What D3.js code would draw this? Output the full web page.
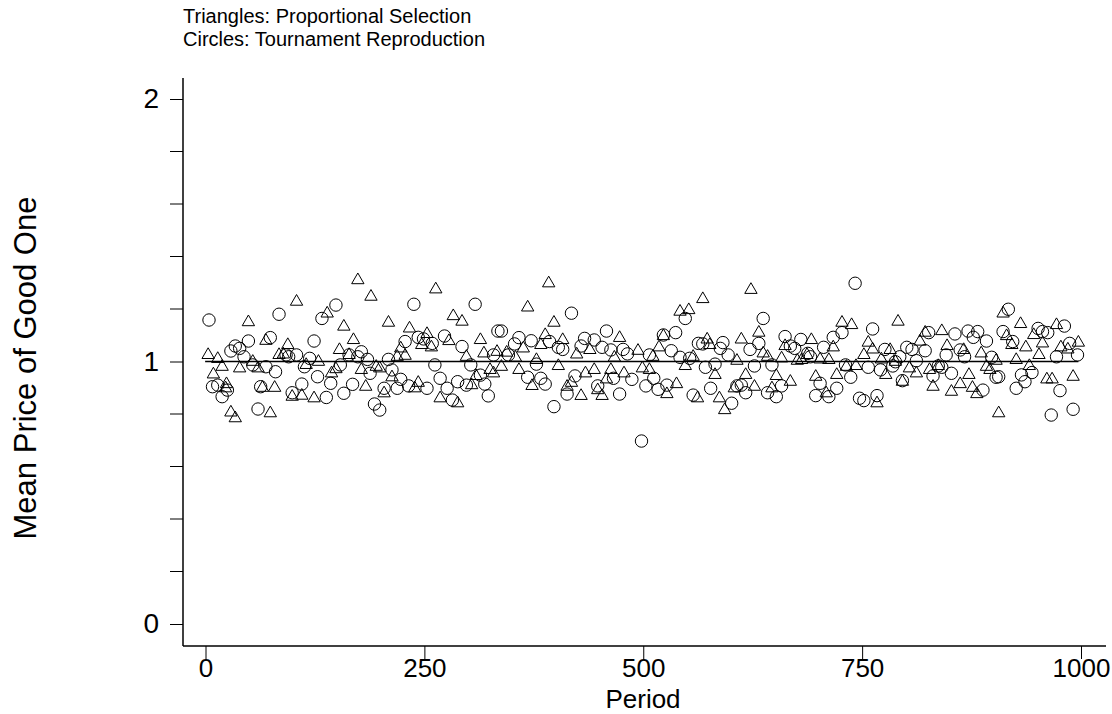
<!DOCTYPE html>
<html>
<head>
<meta charset="utf-8">
<script src="https://cdn.jsdelivr.net/npm/d3@7"></script>
<style>
  body { margin: 0; background: #fff; }
  svg text { font-family: "Liberation Sans", Arial, Helvetica, sans-serif; fill: #000; }
</style>
</head>
<body>
<div id="chart"></div>
<script>
;(function() {

  var titleLines = ['Triangles: Proportional Selection', 'Circles: Tournament Reproduction'];
  var xTicks = [0, 250, 500, 750, 1000];
  var yTicks = [0, 1, 2];
  var yMinorTicks = [0.2, 0.4, 0.6, 0.8, 1.2, 1.4, 1.6, 1.8];
  var refValue = 1;

  // [period, mean price]
  var triangles = [
    [3,1.025],[9,0.951],[14,1.01],[19,0.98],[23,0.898],[24,0.914],[29,0.806],[34,0.784],[39,0.974],[49,1.15],
    [54,0.999],[60,0.974],[65,0.9],[69,1.079],[74,0.803],[79,0.9],[84,1.025],[89,1.027],[94,1.063],[99,0.866],
    [104,1.228],[110,0.87],[115,0.987],[124,0.86],[129,0.999],[139,1.183],[144,0.955],[149,0.971],[153,1.044],[158,1.133],
    [164,1.025],[169,1.082],[174,1.31],[178,0.968],[183,0.904],[189,1.247],[195,0.98],[199,0.974],[204,0.879],[209,1.148],
    [213,0.94],[219,1.018],[223,1.05],[228,1.022],[233,1.126],[239,0.898],[243,0.919],[247,1.063],[253,1.105],[258,1.054],
    [263,1.275],[268,0.86],[278,1.078],[283,1.173],[288,0.841],[293,1.152],[298,1.018],[304,0.91],[309,0.945],[314,1.082],
    [318,1.031],[325,0.968],[329,0.955],[333,1.037],[338,0.98],[344,1.034],[354,1.015],[358,0.968],[363,1.05],[368,1.206],
    [373,0.907],[378,1.006],[383,1.063],[388,1.101],[392,1.298],[398,1.148],[403,0.983],[408,1.082],[413,0.904],[418,0.919],
    [424,1.027],[429,0.869],[434,0.955],[439,1.044],[444,0.968],[448,0.891],[453,0.869],[458,0.932],[463,0.968],[467,1.015],
    [473,1.09],[478,0.955],[494,1.041],[499,0.974],[507,0.968],[511,1.018],[518,1.054],[523,1.097],[527,0.876],[538,0.914],
    [542,1.19],[548,0.983],[552,1.196],[557,1.018],[562,0.86],[568,1.238],[573,1.084],[576,1.063],[582,0.949],[587,0.86],
    [593,0.815],[604,0.898],[607,1.003],[612,1.084],[617,0.949],[623,1.273],[627,0.904],[632,1.11],[637,1.031],[642,1.018],
    [647,0.898],[652,0.945],[658,1.012],[662,1.059],[668,0.923],[676,1.003],[681,1.006],[687,1.025],[692,1.082],[697,0.942],
    [702,1.008],[709,0.879],[712,1.006],[717,1.054],[721,0.949],[727,1.148],[732,0.98],[738,1.139],[743,0.983],[752,1.025],
    [757,1.072],[762,1.046],[767,0.841],[772,1.008],[777,0.949],[782,1.044],[788,0.999],[791,1.152],[796,0.923],[804,0.974],
    [812,0.955],[816,1.076],[822,1.11],[827,0.968],[831,0.904],[837,0.983],[841,1.116],[847,1.059],[852,0.885],[862,0.914],
    [866,1.044],[872,0.949],[876,0.9],[881,0.876],[886,1.031],[892,0.98],[896,0.968],[903,1.003],[906,0.803],[911,1.183],
    [915,1.097],[921,1.063],[926,1.006],[931,1.143],[937,1.054],[941,0.983],[946,1.101],[952,1.025],[956,1.069],[961,0.932],
    [967,0.932],[972,1.139],[977,1.054],[985,1.046],[991,0.942],[997,1.072]
  ];

  var circles = [
    [4,1.158],[8,0.904],[14,0.91],[19,0.866],[25,0.891],[29,1.04],[34,1.059],[39,1.05],[44,1.018],[49,1.078],
    [54,0.987],[60,0.819],[63,0.904],[69,0.98],[74,1.091],[80,0.961],[84,1.18],[92,1.025],[95,1.018],[99,0.881],
    [104,1.025],[110,0.914],[113,0.98],[119,1.012],[124,1.078],[128,0.942],[133,1.164],[138,0.863],[143,0.917],[149,1.215],
    [154,0.987],[158,0.879],[164,1.025],[168,0.913],[174,1.018],[178,1.037],[185,1.008],[188,0.955],[193,0.838],[199,0.815],
    [204,0.898],[209,1.008],[213,0.968],[219,0.898],[223,0.932],[228,1.076],[232,0.907],[238,1.218],[243,1.092],[249,1.086],
    [253,0.898],[259,1.069],[262,0.987],[268,0.936],[273,1.097],[276,0.898],[282,0.853],[288,0.923],[293,1.057],[298,0.91],
    [303,0.987],[308,1.218],[314,0.948],[319,0.914],[323,0.869],[329,1.025],[334,1.116],[338,1.116],[346,1.025],[353,1.067],
    [358,1.091],[368,0.94],[372,1.079],[378,0.99],[383,0.936],[388,0.914],[393,1.076],[398,0.828],[403,1.054],[408,1.046],
    [413,0.876],[418,1.184],[422,0.945],[429,1.059],[433,1.088],[444,1.082],[448,0.907],[453,1.054],[458,1.116],[463,1.044],
    [466,0.936],[473,0.876],[477,1.046],[482,1.029],[487,0.932],[498,0.697],[503,0.907],[507,1.025],[512,0.936],[517,0.894],
    [523,1.101],[527,0.91],[532,1.041],[537,1.11],[542,1.016],[548,1.164],[553,1.012],[557,0.872],[563,1.069],[568,1.067],
    [571,0.978],[577,0.898],[582,0.99],[588,1.05],[591,1.072],[597,1.025],[601,0.841],[607,0.907],[612,0.91],[617,0.881],
    [622,1.046],[627,0.983],[632,1.069],[637,1.164],[642,0.881],[647,0.987],[652,0.866],[658,0.907],[662,1.095],[668,1.059],
    [673,1.05],[680,1.084],[688,1.031],[691,1.018],[697,0.87],[702,0.917],[706,1.054],[712,0.866],[717,1.092],[721,0.898],
    [727,1.11],[731,0.987],[737,0.94],[742,1.298],[747,0.86],[752,0.851],[757,0.978],[762,1.124],[767,0.87],[771,0.968],
    [776,1.046],[785,0.983],[788,0.999],[793,1.018],[796,0.927],[801,1.054],[807,1.046],[812,1.003],[822,1.041],[826,1.11],
    [831,0.945],[837,0.983],[841,0.978],[846,1.025],[852,0.955],[856,1.105],[862,1.044],[867,1.018],[871,1.116],[877,1.092],
    [882,1.114],[888,0.891],[892,1.078],[898,1.016],[903,0.94],[906,0.942],[911,1.114],[917,1.199],[922,1.076],[926,0.898],
    [932,0.949],[936,0.923],[944,0.958],[951,1.126],[956,1.114],[962,1.11],[966,0.796],[972,1.018],[976,0.889],[981,1.135],
    [987,1.069],[991,0.818],[996,1.025]
  ];

  var width = 1112;
  var height = 714;
  var axisLeft = 183;   // y axis line
  var axisBottom = 646; // x axis line
  var tickLen = 13;

  var svg = d3.select('#chart').append('svg')
    .attr('width', width)
    .attr('height', height);

  var x = d3.scaleLinear().domain([0, 1000]).range([205.5, 1081]);
  var y = d3.scaleLinear().domain([0, 2]).range([624, 99]);

  // title, two lines top left
  svg.selectAll('text.title')
    .data(titleLines)
    .enter()
    .append('text')
    .attr('class', 'title')
    .attr('x', axisLeft)
    .attr('y', function(d, i) { return 23 + i * 23; })
    .style('font-size', '20px')
    .text(function(d) { return d; });

  // y axis
  var yAxis = d3.axisLeft(y)
    .tickValues(yTicks)
    .tickFormat(d3.format('d'))
    .tickSize(tickLen)
    .tickPadding(11);

  var gy = svg.append('g')
    .attr('transform', 'translate(' + axisLeft + ',0)')
    .call(yAxis);
  gy.select('.domain').remove();
  gy.selectAll('text').style('font-size', '28px').attr('font-family', null);

  gy.selectAll('line.minor')
    .data(yMinorTicks)
    .enter()
    .append('line')
    .attr('class', 'minor')
    .attr('x1', -tickLen)
    .attr('x2', 0)
    .attr('y1', function(d) { return y(d); })
    .attr('y2', function(d) { return y(d); })
    .attr('stroke', '#000');

  svg.append('line')
    .attr('x1', axisLeft).attr('x2', axisLeft)
    .attr('y1', 78).attr('y2', axisBottom)
    .attr('stroke', '#000')
    .attr('stroke-width', 1.5);

  // x axis
  var xAxis = d3.axisBottom(x)
    .tickValues(xTicks)
    .tickFormat(d3.format('d'))
    .tickSize(tickLen)
    .tickPadding(0);

  var gx = svg.append('g')
    .attr('transform', 'translate(0,' + axisBottom + ')')
    .call(xAxis);
  gx.select('.domain').remove();
  gx.selectAll('text').style('font-size', '26px').attr('font-family', null);

  svg.append('line')
    .attr('x1', axisLeft).attr('x2', 1106)
    .attr('y1', axisBottom).attr('y2', axisBottom)
    .attr('stroke', '#000')
    .attr('stroke-width', 1.5);

  svg.append('text')
    .attr('x', 643)
    .attr('y', 708)
    .attr('text-anchor', 'middle')
    .style('font-size', '26px')
    .text('Period');

  svg.append('text')
    .attr('transform', 'translate(36,368) rotate(-90)')
    .attr('text-anchor', 'middle')
    .style('font-size', '31px')
    .text('Mean Price of Good One');

  // reference line at 1 across the periods
  var span = d3.extent(triangles.concat(circles), function(d) { return d[0]; });
  svg.append('line')
    .attr('x1', x(span[0]) - 3)
    .attr('x2', x(span[1]))
    .attr('y1', y(refValue))
    .attr('y2', y(refValue))
    .attr('stroke', '#000')
    .attr('stroke-width', 1.3);

  var tri = d3.symbol().type(d3.symbolTriangle).size(66);

  svg.append('g').selectAll('path')
    .data(triangles)
    .enter()
    .append('path')
    .attr('d', tri)
    .attr('transform', function(d) {
      return 'translate(' + x(d[0]) + ',' + y(d[1]) + ')';
    })
    .attr('fill', 'none')
    .attr('stroke', '#000')
    .attr('stroke-width', 1);

  svg.append('g').selectAll('circle')
    .data(circles)
    .enter()
    .append('circle')
    .attr('cx', function(d) { return x(d[0]); })
    .attr('cy', function(d) { return y(d[1]); })
    .attr('r', 6.2)
    .attr('fill', 'none')
    .attr('stroke', '#000')
    .attr('stroke-width', 1);

})();
</script>
</body>
</html>
